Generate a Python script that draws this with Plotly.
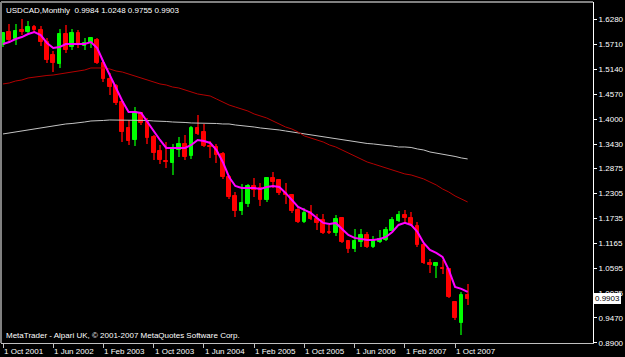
import plotly.graph_objects as go

# ---- data (USDCAD monthly, Oct 2001 .. Dec 2007) ----
opens = [1.5694, 1.5990, 1.5831, 1.6036, 1.5990, 1.6104, 1.6036, 1.5762, 1.5466, 1.5261,
         1.5945, 1.5648, 1.5968, 1.5671, 1.5740, 1.5808, 1.5284, 1.4919, 1.4759, 1.4394,
         1.3802, 1.3528, 1.4144, 1.3938, 1.3596, 1.3277, 1.3049, 1.3004, 1.3300, 1.3437,
         1.3163, 1.3802, 1.3710, 1.3391, 1.3368, 1.3209, 1.2684, 1.2251, 1.1909, 1.2069,
         1.2479, 1.2434, 1.2160, 1.2662, 1.2616, 1.2320, 1.2274, 1.1932, 1.1658, 1.1886,
         1.1727, 1.1704, 1.1430, 1.1408, 1.1750, 1.1225, 1.1043, 1.1202, 1.1362, 1.1088,
         1.1202, 1.1248, 1.1453, 1.1681, 1.1818, 1.1750, 1.1567, 1.1134, 1.0724, 1.0655,
         1.0610, 1.0587, 0.9834, 0.9356, 0.9984]
highs = [1.5990, 1.6173, 1.6173, 1.6287, 1.6241, 1.6150, 1.6127, 1.5854, 1.5557, 1.6059,
         1.6150, 1.6059, 1.6036, 1.5854, 1.5876, 1.5854, 1.5352, 1.5056, 1.4800, 1.4420,
         1.3984, 1.4280, 1.4166, 1.4030, 1.3642, 1.3414, 1.3482, 1.3437, 1.3596, 1.3642,
         1.3847, 1.4098, 1.3893, 1.3505, 1.3437, 1.3254, 1.2730, 1.2342, 1.2525, 1.2525,
         1.2662, 1.2548, 1.2684, 1.2799, 1.2639, 1.2548, 1.2297, 1.2000, 1.1978, 1.2046,
         1.1841, 1.1841, 1.1590, 1.1818, 1.1772, 1.1248, 1.1499, 1.1499, 1.1430, 1.1339,
         1.1476, 1.1544, 1.1772, 1.1909, 1.1932, 1.1886, 1.1658, 1.1157, 1.0815, 1.0724,
         1.0792, 1.0610, 0.9834, 1.0062, 1.0248]
lows = [1.5648, 1.5785, 1.5694, 1.5922, 1.5968, 1.5990, 1.5671, 1.5284, 1.5078, 1.5170,
        1.5512, 1.5580, 1.5626, 1.5580, 1.5626, 1.5261, 1.4850, 1.4554, 1.4320, 1.3482,
        1.3414, 1.3391, 1.3870, 1.3437, 1.3072, 1.2981, 1.2890, 1.2730, 1.3140, 1.3072,
        1.3095, 1.3642, 1.3368, 1.3118, 1.3004, 1.2639, 1.2183, 1.1772, 1.1818, 1.2000,
        1.2228, 1.2023, 1.2114, 1.2434, 1.2274, 1.2069, 1.1864, 1.1636, 1.1636, 1.1704,
        1.1476, 1.1390, 1.1385, 1.1339, 1.1180, 1.0952, 1.0974, 1.1088, 1.1066, 1.1066,
        1.1180, 1.1225, 1.1453, 1.1658, 1.1613, 1.1567, 1.1088, 1.0701, 1.0496, 1.0382,
        1.0473, 0.9926, 0.9424, 0.9082, 0.9755]
closes = [1.5968, 1.5808, 1.6013, 1.5990, 1.6104, 1.6036, 1.5762, 1.5352, 1.5284, 1.5945,
          1.5580, 1.5968, 1.5694, 1.5740, 1.5854, 1.5284, 1.4919, 1.4736, 1.4372, 1.3710,
          1.3505, 1.4166, 1.3916, 1.3574, 1.3232, 1.3072, 1.3026, 1.3346, 1.3437, 1.3140,
          1.3802, 1.3665, 1.3391, 1.3368, 1.3186, 1.2684, 1.2228, 1.1909, 1.2092, 1.2479,
          1.2388, 1.2160, 1.2662, 1.2570, 1.2320, 1.2274, 1.1909, 1.1658, 1.1864, 1.1727,
          1.1636, 1.1408, 1.1408, 1.1727, 1.1202, 1.1043, 1.1225, 1.1362, 1.1088, 1.1225,
          1.1271, 1.1476, 1.1704, 1.1818, 1.1750, 1.1590, 1.1134, 1.0724, 1.0678, 1.0724,
          1.0587, 0.9948, 0.9470, 0.9984, 0.9903]

ma_fast = [1.5717, 1.5762, 1.5831, 1.5876, 1.5945, 1.5990, 1.5922, 1.5740, 1.5626, 1.5648,
           1.5717, 1.5717, 1.5717, 1.5717, 1.5762, 1.5626, 1.5306, 1.5010, 1.4691, 1.4417,
           1.4166, 1.4166, 1.4144, 1.3938, 1.3710, 1.3528, 1.3346, 1.3346, 1.3346, 1.3346,
           1.3414, 1.3528, 1.3505, 1.3460, 1.3300, 1.3026, 1.2684, 1.2479, 1.2434, 1.2434,
           1.2434, 1.2411, 1.2456, 1.2479, 1.2456, 1.2320, 1.2160, 1.2000, 1.1932, 1.1864,
           1.1750, 1.1636, 1.1613, 1.1636, 1.1499, 1.1362, 1.1294, 1.1271, 1.1248, 1.1248,
           1.1271, 1.1316, 1.1430, 1.1590, 1.1636, 1.1590, 1.1430, 1.1180, 1.1020, 1.0952,
           1.0861, 1.0564, 1.0176, 1.0131, 1.0062]
ma_mid = [1.4805, 1.4828, 1.4873, 1.4896, 1.4942, 1.4964, 1.4987, 1.4999, 1.5010, 1.5033,
          1.5056, 1.5078, 1.5101, 1.5124, 1.5170, 1.5170, 1.5170, 1.5147, 1.5101, 1.5078,
          1.5033, 1.4987, 1.4942, 1.4896, 1.4850, 1.4805, 1.4782, 1.4736, 1.4714, 1.4668,
          1.4622, 1.4577, 1.4554, 1.4531, 1.4463, 1.4394, 1.4326, 1.4280, 1.4235, 1.4189,
          1.4121, 1.4075, 1.4030, 1.3961, 1.3893, 1.3824, 1.3779, 1.3710, 1.3619, 1.3574,
          1.3528, 1.3482, 1.3414, 1.3368, 1.3300, 1.3232, 1.3163, 1.3095, 1.3026, 1.2981,
          1.2935, 1.2890, 1.2844, 1.2798, 1.2753, 1.2730, 1.2684, 1.2639, 1.2570, 1.2502,
          1.2411, 1.2342, 1.2251, 1.2183, 1.2114]
ma_slow = [1.3665, 1.3688, 1.3710, 1.3733, 1.3756, 1.3779, 1.3813, 1.3824, 1.3847, 1.3870,
           1.3893, 1.3904, 1.3916, 1.3938, 1.3961, 1.3961, 1.3973, 1.3984, 1.3984, 1.3984,
           1.3984, 1.3984, 1.3984, 1.3973, 1.3961, 1.3961, 1.3950, 1.3938, 1.3938, 1.3927,
           1.3916, 1.3916, 1.3916, 1.3916, 1.3904, 1.3893, 1.3893, 1.3870, 1.3859, 1.3847,
           1.3824, 1.3802, 1.3790, 1.3779, 1.3756, 1.3733, 1.3710, 1.3688, 1.3665, 1.3642,
           1.3619, 1.3596, 1.3574, 1.3551, 1.3528, 1.3505, 1.3482, 1.3460, 1.3448, 1.3437,
           1.3414, 1.3403, 1.3391, 1.3368, 1.3368, 1.3357, 1.3323, 1.3300, 1.3254, 1.3232,
           1.3209, 1.3186, 1.3152, 1.3118, 1.3095]

x_tick_pos = [0, 8, 16, 24, 32, 40, 48, 56, 64, 72]
x_tick_labels = ["1 Oct 2001", "1 Jun 2002", "1 Feb 2003", "1 Oct 2003", "1 Jun 2004",
                 "1 Feb 2005", "1 Oct 2005", "1 Jun 2006", "1 Feb 2007", "1 Oct 2007"]
y_tick_vals = [0.8900, 0.9470, 1.0025, 1.0595, 1.1165, 1.1735, 1.2305, 1.2875,
               1.3430, 1.4000, 1.4570, 1.5140, 1.5710, 1.6280]
y_tick_labels = ["0.8900", "0.9470", "1.0025", "1.0595", "1.1165", "1.1735", "1.2305",
                 "1.2875", "1.3430", "1.4000", "1.4570", "1.5140", "1.5710", "1.6280"]

symbol = "USDCAD,Monthly"
footer = "MetaTrader - Alpari UK, \u00a9 2001-2007 MetaQuotes Software Corp."

# ---- figure ----
FONT = "Liberation Sans"
n = len(closes)
xs = list(range(n))
up = [i for i in xs if closes[i] >= opens[i]]
dn = [i for i in xs if closes[i] < opens[i]]

fig = go.Figure()

def add_candles(idx, body_col, wick_col):
    fig.add_trace(go.Bar(x=idx, base=[lows[i] for i in idx],
                         y=[highs[i] - lows[i] for i in idx], width=0.16,
                         marker=dict(color=wick_col, line=dict(width=0)),
                         hoverinfo="skip", showlegend=False))
    fig.add_trace(go.Bar(x=idx, base=[min(opens[i], closes[i]) for i in idx],
                         y=[abs(closes[i] - opens[i]) for i in idx], width=0.58,
                         marker=dict(color=body_col, line=dict(color=body_col, width=1)),
                         hoverinfo="skip", showlegend=False))

add_candles(dn, "#FF0000", "#B00000")
add_candles(up, "#00FF00", "#00A000")

fig.add_trace(go.Scatter(x=xs, y=ma_slow, mode="lines",
                         line=dict(color="#C4C4C4", width=1), hoverinfo="skip", showlegend=False))
fig.add_trace(go.Scatter(x=xs, y=ma_mid, mode="lines",
                         line=dict(color="#B40000", width=1), hoverinfo="skip", showlegend=False))
fig.add_trace(go.Scatter(x=xs, y=ma_fast, mode="lines",
                         line=dict(color="#FF00FF", width=2), hoverinfo="skip", showlegend=False))

annotations = []
for pos, lab in zip(x_tick_pos, x_tick_labels):
    annotations.append(dict(x=pos, xref="x", y=-0.0235, yref="paper", text=lab,
                            showarrow=False, xanchor="left", yanchor="middle", xshift=-1,
                            font=dict(family=FONT, size=8, color="white")))
annotations.append(dict(x=0, xref="paper", y=1, yref="paper", xanchor="left", yanchor="top",
                        xshift=3, yshift=-2, showarrow=False,
                        text=f"{symbol}&nbsp;&nbsp;{opens[-1]:.4f} {highs[-1]:.4f} {lows[-1]:.4f} {closes[-1]:.4f}",
                        font=dict(family=FONT, size=8, color="white")))
annotations.append(dict(x=0, xref="paper", y=0, yref="paper", xanchor="left", yanchor="bottom",
                        xshift=3, yshift=1, showarrow=False, text=footer,
                        font=dict(family=FONT, size=8, color="white")))
annotations.append(dict(x=1, xref="paper", y=closes[-1], yref="y", xanchor="left",
                        yanchor="middle", xshift=1, showarrow=False, text=f"{closes[-1]:.4f}",
                        bgcolor="white", bordercolor="white", borderpad=0,
                        font=dict(family=FONT, size=8, color="black")))

fig.update_layout(
    width=625, height=357,
    margin=dict(l=1, r=30, t=2, b=14),
    paper_bgcolor="black", plot_bgcolor="black",
    barmode="overlay", bargap=0,
    hovermode=False,
    xaxis=dict(range=[-0.32, 93.97], showgrid=False, zeroline=False,
               tickmode="array", tickvals=x_tick_pos, showticklabels=False,
               ticks="outside", ticklen=4, tickcolor="#C0C0C0",
               showline=True, linecolor="#C0C0C0", linewidth=1),
    yaxis=dict(range=[0.8897, 1.6675], side="right", showgrid=False, zeroline=False,
               tickmode="array", tickvals=y_tick_vals, ticktext=y_tick_labels,
               ticks="outside", ticklen=3, tickcolor="white",
               tickfont=dict(family=FONT, size=8, color="white"),
               showline=True, linecolor="white", linewidth=1),
    annotations=annotations,
    shapes=[
        dict(type="line", xref="paper", yref="paper", x0=0, x1=0, y0=0, y1=1,
             line=dict(color="#808080", width=2)),
        dict(type="line", xref="paper", yref="paper", x0=0, x1=1, y0=1, y1=1,
             line=dict(color="#808080", width=2)),
    ],
)

fig.write_html("out.html")
